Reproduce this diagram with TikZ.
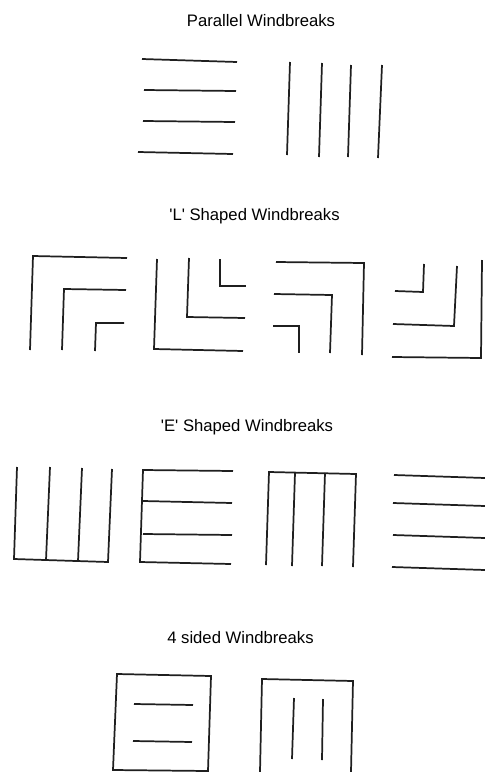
\documentclass[tikz,border=0pt]{standalone}
\usepackage{fontspec}
\setmainfont{Liberation Sans}
\usetikzlibrary{positioning}
\tikzset{
  brk/.style={line width=1.3pt, color=black!88},
  ttl/.style={font=\fontsize{12.5}{15}\selectfont, anchor=base, inner sep=0pt}
}

\begin{document}
\begin{tikzpicture}[x=0.75pt, y=-0.75pt]
\useasboundingbox (0,0) rectangle (485,772);

% parallel windbreaks
\node[ttl] (tpar) at (261,26) {Parallel Windbreaks};
\draw[brk] (142,59) -- (237,62);
\draw[brk] (144,90) -- (236,91);
\draw[brk] (143,121) -- (235,122);
\draw[brk] (138,152) -- (233,154);
\draw[brk] (290,62) -- (287,155);
\draw[brk] (322,63) -- (319,157);
\draw[brk] (351,65) -- (348,157);
\draw[brk] (382,65) -- (378,158);

% L shaped windbreaks
\node[ttl] (tlsh) at (254.5,220) {\textquotesingle L\textquotesingle{} Shaped Windbreaks};
\draw[brk] (30,350) -- (33,256) -- (127,258);
\draw[brk] (62,350) -- (64,289) -- (126,290);
\draw[brk] (95,351) -- (96,323) -- (124,323);
\draw[brk] (157,259) -- (154,349) -- (243,351);
\draw[brk] (189,258) -- (187,317) -- (245,318);
\draw[brk] (220,259) -- (220,286) -- (246,286);
\draw[brk] (276,262) -- (364,263) -- (362,355);
\draw[brk] (274,294) -- (332,295) -- (330,353);
\draw[brk] (273,326) -- (299,326) -- (299,353);
\draw[brk] (424,264) -- (423,292) -- (395,291);
\draw[brk] (457,266) -- (454,326) -- (393,324);
\draw[brk] (482,260) -- (481,358) -- (392,357);

% E shaped windbreaks
\node[ttl] (tesh) at (247,431) {\textquotesingle E\textquotesingle{} Shaped Windbreaks};
\draw[brk] (17,467) -- (14,559) -- (108,562) -- (112,469);
\draw[brk] (50,467) -- (46,560);
\draw[brk] (82,468) -- (78,561);
\draw[brk] (233,471) -- (143,470) -- (140,562) -- (231,564);
\draw[brk] (143,501) -- (232,503);
\draw[brk] (143,534) -- (232,535);
\draw[brk] (266,565) -- (269,472) -- (356,474) -- (353,567);
\draw[brk] (295,473) -- (292,566);
\draw[brk] (325,473) -- (322,566);
\draw[brk] (394,475) -- (485,478);
\draw[brk] (393,503) -- (485,506);
\draw[brk] (393,535) -- (485,538);
\draw[brk] (392,567) -- (485,570);

% 4 sided windbreaks
\node[ttl] (tfour) at (240.5,643) {4 sided Windbreaks};
\draw[brk] (117,674) -- (211,676) -- (208,771) -- (113,770) -- cycle;
\draw[brk] (134,704) -- (193,705);
\draw[brk] (133,741) -- (192,742);
\draw[brk] (260,772) -- (262,679) -- (353,681) -- (351,772);
\draw[brk] (294,698) -- (292,759);
\draw[brk] (323,699) -- (322,760);
\end{tikzpicture}
\end{document}
